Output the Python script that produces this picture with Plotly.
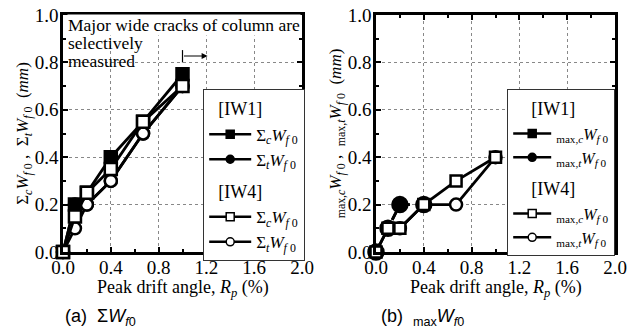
import plotly.graph_objects as go

# ---------------- data ----------------
# (a) sum of residual crack widths
a_iw1_c_x = [0, 0.1, 0.2, 0.4, 0.67, 1.0]
a_iw1_c_y = [0, 0.2, 0.25, 0.4, 0.55, 0.75]
a_iw1_t_x = [0, 0.1, 0.2, 0.4, 0.67, 1.0]
a_iw1_t_y = [0, 0.2, 0.2, 0.3, 0.5, 0.7]
a_iw4_c_x = [0, 0.1, 0.2, 0.4, 0.67, 1.0]
a_iw4_c_y = [0, 0.15, 0.25, 0.35, 0.55, 0.7]
a_iw4_t_x = [0, 0.1, 0.2, 0.4, 0.67, 1.0]
a_iw4_t_y = [0, 0.1, 0.2, 0.3, 0.5, 0.7]

# (b) maximum residual crack widths
b_iw1_c_x = [0, 0.1, 0.2, 0.4]
b_iw1_c_y = [0, 0.1, 0.2, 0.2]
b_iw1_t_x = [0, 0.1, 0.2, 0.4]
b_iw1_t_y = [0, 0.1, 0.2, 0.2]
b_iw4_c_x = [0, 0.1, 0.2, 0.4, 0.67, 1.0]
b_iw4_c_y = [0, 0.1, 0.1, 0.2, 0.3, 0.4]
b_iw4_t_x = [0, 0.1, 0.2, 0.4, 0.67, 1.0]
b_iw4_t_y = [0, 0.1, 0.1, 0.2, 0.2, 0.4]

x_ticks = [0.0, 0.4, 0.8, 1.2, 1.6, 2.0]
y_ticks = [0.0, 0.2, 0.4, 0.6, 0.8, 1.0]

SERIF = "Liberation Serif"
SANS = "Liberation Sans"

fig = go.Figure()

def tr(x, y, symbol, fill, xa, ya, dash="solid", size=12):
    fig.add_trace(go.Scatter(
        x=x, y=y, mode="lines+markers", showlegend=False,
        xaxis=xa, yaxis=ya, cliponaxis=False,
        line=dict(color="black", width=2.8, dash=dash),
        marker=dict(symbol=symbol, size=size, color=fill,
                    line=dict(color="black", width=2.5)),
    ))

def leg(name, symbol, fill, legend, group, gtitle):
    fig.add_trace(go.Scatter(
        x=[None], y=[None], mode="lines+markers", name=name,
        legend=legend, legendgroup=group,
        legendgrouptitle=dict(text=gtitle, font=dict(family=SERIF, size=18, color="black")),
        line=dict(color="black", width=2.5),
        marker=dict(symbol=symbol, size=8, color=fill,
                    line=dict(color="black", width=1.5)),
        xaxis="x", yaxis="y",
    ))

sc = "Σ<sub><i>c</i></sub><i>W</i><sub><i>f</i> 0</sub>"
st = "Σ<sub><i>t</i></sub><i>W</i><sub><i>f</i> 0</sub>"
mc = "<sub>max,<i>c</i></sub><i>W</i><sub><i>f</i> 0</sub>"
mt = "<sub>max,<i>t</i></sub><i>W</i><sub><i>f</i> 0</sub>"

tr(a_iw1_c_x, a_iw1_c_y, "square", "black", "x", "y")
tr(a_iw1_t_x, a_iw1_t_y, "circle", "black", "x", "y")
tr(a_iw4_t_x, a_iw4_t_y, "circle", "white", "x", "y")
tr(a_iw4_c_x, a_iw4_c_y, "square", "white", "x", "y")

tr(b_iw1_c_x, b_iw1_c_y, "square", "black", "x2", "y2", dash="dash", size=9)
tr(b_iw1_t_x, b_iw1_t_y, "circle", "black", "x2", "y2", dash="dash", size=15)
tr(b_iw4_t_x, b_iw4_t_y, "circle", "white", "x2", "y2", size=12)
tr(b_iw4_c_x, b_iw4_c_y, "square", "white", "x2", "y2", size=11)

leg(sc, "square", "black", "legend", "a1", "  [IW1]")
leg(st, "circle", "black", "legend", "a1", "  [IW1]")
leg(sc, "square", "white", "legend", "a4", "  [IW4]")
leg(st, "circle", "white", "legend", "a4", "  [IW4]")
leg(mc, "square", "black", "legend2", "b1", "    [IW1]")
leg(mt, "circle", "black", "legend2", "b1", "    [IW1]")
leg(mc, "square", "white", "legend2", "b4", "    [IW4]")
leg(mt, "circle", "white", "legend2", "b4", "    [IW4]")

# page body adds an 8 px offset; layout is expressed in figure pixels
W, H = 627, 328
PT, PB = 7, 244          # plot top / bottom (px)
PH = PB - PT
L0, L1 = 55 / W, 294 / W
R0, R1 = 368 / W, 607 / W

def py(px):
    """figure pixel row -> paper y"""
    return (PB - px) / PH

def xax(domain, anchor):
    return dict(domain=domain, range=[0, 2.0], anchor=anchor, tickvals=x_ticks,
                ticktext=[f"{v:.1f}" for v in x_ticks],
                ticks="inside", ticklen=5, tickwidth=1.5, tickcolor="black",
                minor=dict(dtick=0.2, ticks="inside", ticklen=3, tickcolor="black", showgrid=False),
                showline=True, linewidth=2.5, linecolor="black", mirror="allticks",
                showgrid=True, gridcolor="#888888", griddash="dot", gridwidth=1,
                zeroline=False, automargin=True, ticklabeloverflow="allow",
                ticklabelstandoff=-4,
                tickfont=dict(family=SERIF, size=19, color="black"))

def yax(anchor, title):
    return dict(domain=[0, 1], range=[0, 1.0], anchor=anchor, tickvals=y_ticks,
                ticktext=[f"{v:.1f}" for v in y_ticks],
                ticks="inside", ticklen=5, tickwidth=1.5, tickcolor="black",
                minor=dict(dtick=0.1, ticks="inside", ticklen=3, tickcolor="black", showgrid=False),
                showline=True, linewidth=2.5, linecolor="black", mirror="allticks",
                showgrid=True, gridcolor="#888888", griddash="dot", gridwidth=1,
                zeroline=False, automargin=True, ticklabeloverflow="allow",
                ticklabelstandoff=-2,
                tickfont=dict(family=SERIF, size=19, color="black"),
                title=dict(text=title, font=dict(family=SERIF, size=17, color="black"), standoff=0))

legend_common = dict(bgcolor="white", bordercolor="#333333", borderwidth=1.2,
                     traceorder="grouped", tracegroupgap=6,
                     xanchor="left", yanchor="top")

fig.update_layout(
    width=W, height=H,
    margin=dict(l=0, r=0, t=PT, b=H - PB, autoexpand=False),
    paper_bgcolor="white", plot_bgcolor="white",
    xaxis=xax([L0, L1], "y"),
    yaxis=yax("x", "Σ<sub><i>c</i></sub><i>W</i><sub><i>f</i> 0</sub> ,  Σ<sub><i>t</i></sub><i>W</i><sub><i>f</i> 0</sub>  (<i>mm</i>)"),
    xaxis2=xax([R0, R1], "y2"),
    yaxis2=yax("x2", "<sub>max,<i>c</i></sub><i>W</i><sub><i>f</i> 0</sub> ,  <sub>max,<i>t</i></sub><i>W</i><sub><i>f</i> 0</sub>  (<i>mm</i>)"),
    legend=dict(x=195 / W, y=py(81), itemwidth=42,
                font=dict(family=SERIF, size=17, color="black"), **legend_common),
    legend2=dict(x=499 / W, y=py(81), itemwidth=38,
                 font=dict(family=SERIF, size=16, color="black"), **legend_common),
    showlegend=True,
)

# x-axis titles
xt = "Peak drift angle, <i>R</i><sub><i>p</i></sub> (%)"
for cx in [(L0 + L1) / 2, (R0 + R1) / 2]:
    fig.add_annotation(xref="paper", yref="paper", x=cx, y=py(280),
                       xanchor="center", yanchor="middle", text=xt, showarrow=False,
                       font=dict(family=SERIF, size=18, color="black"))

# annotation text in panel (a)
note_lines = ["Major wide cracks of column are", "selectively", "measured"]
for i, line in enumerate(note_lines):
    fig.add_annotation(xref="x", yref="paper", x=0.03, y=py(17 + 18 * i),
                       xanchor="left", yanchor="middle", text=line,
                       showarrow=False, align="left",
                       bgcolor="white" if i == 0 else "rgba(0,0,0,0)", borderpad=0,
                       font=dict(family=SERIF, size=17.5, color="black"))
fig.add_shape(type="line", xref="x", yref="y", x0=1.0, x1=1.0, y0=0.80, y1=0.852,
              line=dict(color="black", width=1.2))
fig.add_annotation(xref="x", yref="y", ax=1.0, ay=0.827, axref="x", ayref="y",
                   x=1.21, y=0.827, text="", showarrow=True, arrowhead=2,
                   arrowsize=1, arrowwidth=1.2, arrowcolor="black", standoff=0, startstandoff=0)

# captions
fig.add_annotation(xref="paper", yref="paper", x=92 / W, y=py(309),
                   xanchor="center", yanchor="middle",
                   text="(a)  Σ<i>W</i><sub><i>f</i>0</sub>", showarrow=False,
                   font=dict(family=SANS, size=18, color="black"))
fig.add_annotation(xref="paper", yref="paper", x=414 / W, y=py(309),
                   xanchor="center", yanchor="middle",
                   text="(b)  <sub>max</sub><i>W</i><sub><i>f</i>0</sub>", showarrow=False,
                   font=dict(family=SANS, size=18, color="black"))

fig.write_html("out.html")
